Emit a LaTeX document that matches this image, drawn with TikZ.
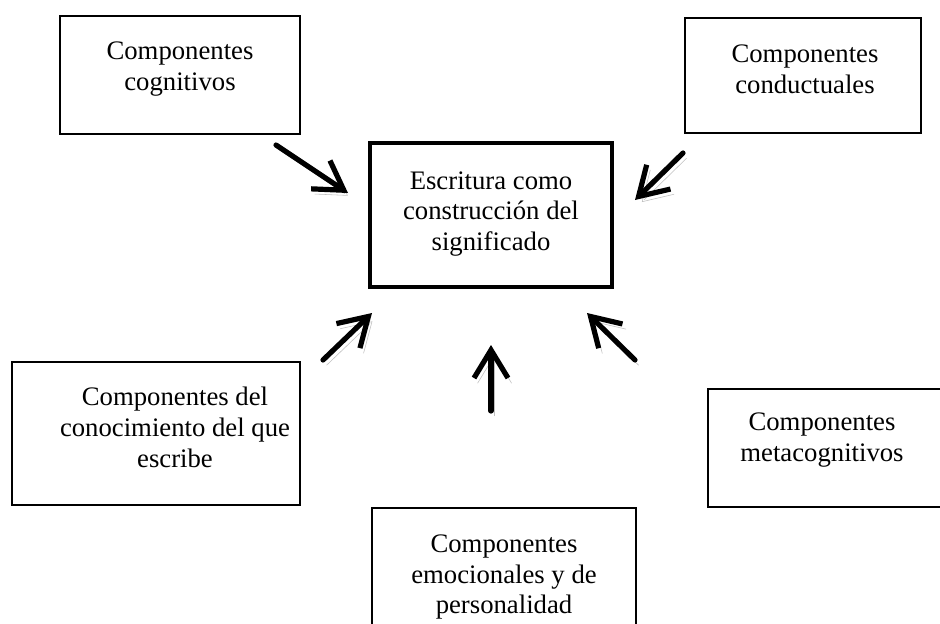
\documentclass[tikz,border=0pt]{standalone}
\usepackage{fontspec}
\setmainfont{Liberation Serif}
\usetikzlibrary{arrows.meta}

\begin{document}
\begin{tikzpicture}[x=0.25mm, y=-0.25mm,
    every node/.style={align=center, inner sep=0pt, font=\fontsize{19}{22}\selectfont},
    frame/.style={draw, line width=1.1pt},
    arrowline/.style={line width=1.3mm, line cap=round, line join=round,
        -{Straight Barb[length=7mm, width=8.5mm]},
        preaction={draw=black!25, transform canvas={shift={(0.9mm,-1.3mm)}}}}]
    \useasboundingbox (0,0) rectangle (940,623);
    \clip (0,0) rectangle (940,623);

    \draw[frame] (60,16) rectangle (300,134);
    \draw[frame] (685,18) rectangle (921,133);
    \draw[frame, line width=2.8pt] (370,143) rectangle (612,287);
    \draw[frame] (12,362) rectangle (300,505);
    \draw[frame] (708,389) rectangle (990,507);
    \draw[frame] (372,508) rectangle (636,660);

    \node (cog) at (180,69) {Componentes\\cognitivos};
    \node (cond) at (805,69) {Componentes\\conductuales};
    \node (esc) at (491,214) {Escritura como\\construcción del\\significado};
    \node (con) at (175,427) {Componentes del\\conocimiento del que\\escribe};
    \node (meta) at (822,440) {Componentes\\metacognitivos};
    \node (emo) at (504,577) {Componentes\\emocionales y de\\personalidad};

    \coordinate (c1) at (276,145);
    \coordinate (c2) at (348,193);
    \coordinate (d1) at (683,153);
    \coordinate (d2) at (635,200);
    \coordinate (k1) at (323,360);
    \coordinate (k2) at (372,313);
    \coordinate (e1) at (491,411);
    \coordinate (e2) at (491,345);
    \coordinate (m1) at (635,360);
    \coordinate (m2) at (587,313);

    \draw[arrowline] (c1) -- (c2);
    \draw[arrowline] (d1) -- (d2);
    \draw[arrowline] (k1) -- (k2);
    \draw[arrowline] (e1) -- (e2);
    \draw[arrowline] (m1) -- (m2);
\end{tikzpicture}
\end{document}
